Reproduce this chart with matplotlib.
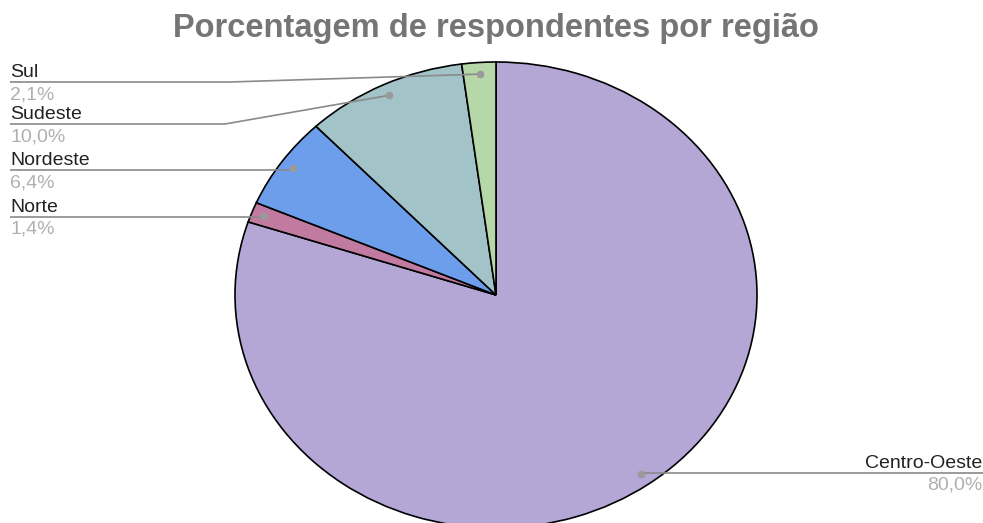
import matplotlib
matplotlib.use("Agg")
import matplotlib.pyplot as plt
import numpy as np

plt.rcParams['font.family'] = ['Liberation Sans', 'DejaVu Sans']

# Data
regions = ["Centro-Oeste", "Norte", "Nordeste", "Sudeste", "Sul"]
values = [80.0, 1.4, 6.4, 10.0, 2.1]
pct_labels = ["80,0%", "1,4%", "6,4%", "10,0%", "2,1%"]
colors = ["#b4a7d6", "#c27ba0", "#6d9eeb", "#a2c4c9", "#b6d7a8"]

W, H = 983, 523
fig = plt.figure(figsize=(W / 100, H / 100), dpi=100)

# pie axes: ellipse centred at (496, 295) px, radii 261 x 233 px
cx, cy, rx, ry = 496, 295, 261, 233
pax = fig.add_axes([(cx - rx) / W, (H - cy - ry) / H, 2 * rx / W, 2 * ry / H])
wedges, _ = pax.pie(values, colors=colors, startangle=90, counterclock=False,
                    wedgeprops=dict(edgecolor="black", linewidth=1.2))
pax.set_aspect('auto')
pax.set_xlim(-1, 1)
pax.set_ylim(-1, 1)
pax.axis('off')

# overlay axes in pixel coordinates
ov = fig.add_axes([0, 0, 1, 1], zorder=3)
ov.set_xlim(0, W)
ov.set_ylim(H, 0)
ov.axis('off')
ov.patch.set_alpha(0)


def to_px(x, y):
    p = pax.transData.transform((x, y))
    return ov.transData.inverted().transform(p)


# label layout: (line y, elbow x, side)
layout = {
    "Sul": (82, 230, "left"),
    "Sudeste": (124, 225, "left"),
    "Nordeste": (170, None, "left"),
    "Norte": (217, None, "left"),
    "Centro-Oeste": (473, None, "right"),
}

for w, name, pct in zip(wedges, regions, pct_labels):
    mid = np.deg2rad((w.theta1 + w.theta2) / 2)
    dx, dy = to_px(0.95 * np.cos(mid), 0.95 * np.sin(mid))
    ly, ex, side = layout[name]
    if side == "left":
        if ex is None:
            xs, ys = [10, dx], [ly, ly]
        else:
            xs, ys = [10, ex, dx], [ly, ly, dy]
        tx, ha = 10, "left"
    else:
        xs, ys = [dx, W], [ly, ly]
        tx, ha = W - 1, "right"
    ov.plot(xs, ys, color="#8a8a8a", lw=1.2, solid_capstyle="butt")
    ov.plot([dx], [dy], "o", color="#9a9a9a", ms=4.5)
    ov.text(tx, ly - 5, name, ha=ha, va="baseline", fontsize=14, color="#222222")
    ov.text(tx, ly + 4, pct, ha=ha, va="top", fontsize=14, color="#b0b0b0")

ov.text(496, 37, "Porcentagem de respondentes por região", ha="center", va="baseline",
        fontsize=23.5, fontweight="bold", color="#757575")

fig.savefig("out.png", dpi=100)
